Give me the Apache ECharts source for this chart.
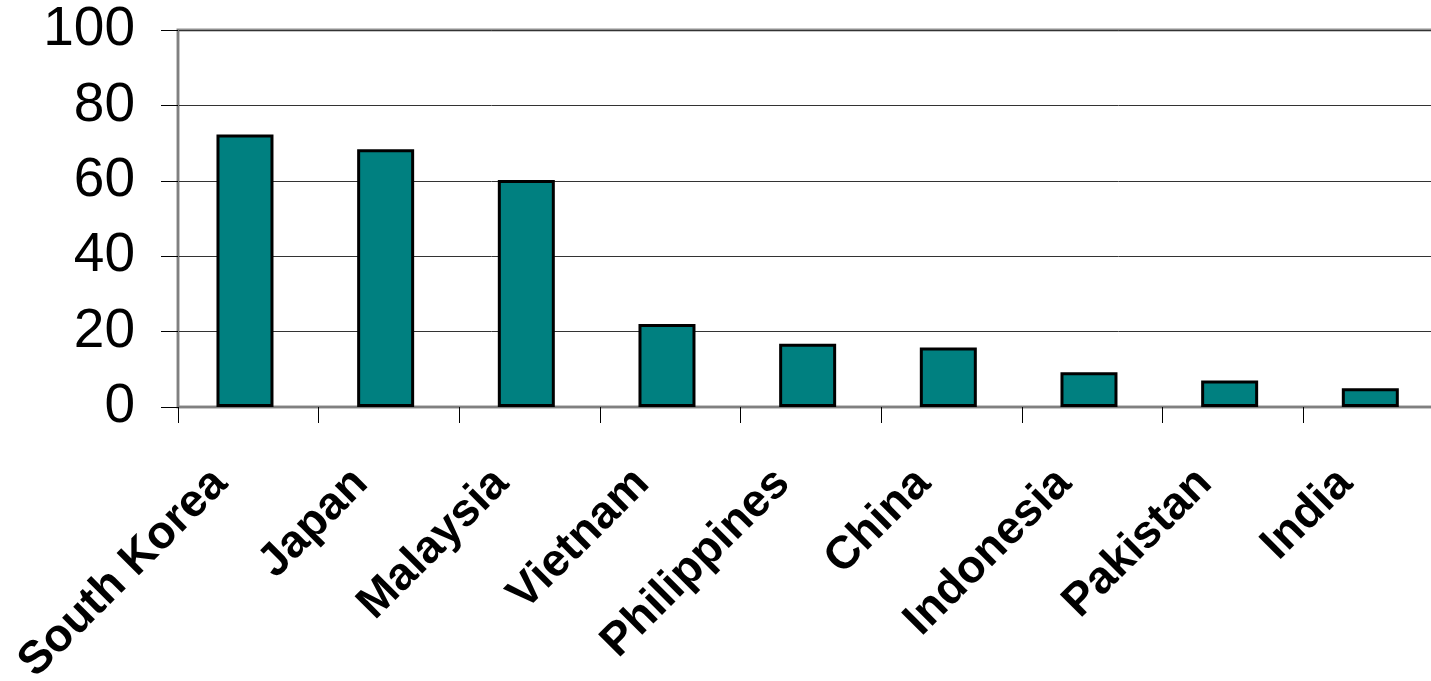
<!DOCTYPE html>
<html>
<head>
<meta charset="utf-8">
<style>
  html, body { margin: 0; padding: 0; background: #fff; }
  #chart { width: 1431px; height: 681px; }
</style>
<script src="https://cdn.jsdelivr.net/npm/echarts@6/dist/echarts.min.js"></script>
</head>
<body>
<div id="chart"></div>
<script>
const categories = ['South Korea', 'Japan', 'Malaysia', 'Vietnam', 'Philippines', 'China', 'Indonesia', 'Pakistan', 'India'];
const values = [72.3, 68.4, 60.2, 22.0, 16.8, 15.8, 9.2, 7.0, 5.0];
const yMin = 0;
const yMax = 100;
const yInterval = 20;

const chart = echarts.init(document.getElementById('chart'), null, { renderer: 'canvas' });
chart.setOption({
  animation: false,
  backgroundColor: '#ffffff',
  grid: {
    left: 178, right: -13, top: 30, bottom: 274,
    containLabel: false,
    outerBoundsMode: 'none',
    show: true, borderColor: '#909090', borderWidth: 3, backgroundColor: 'transparent'
  },
  xAxis: {
    type: 'category',
    data: categories,
    boundaryGap: true,
    axisLine: { show: true, lineStyle: { color: '#808080', width: 2 } },
    axisTick: { show: true, length: 16, lineStyle: { color: '#000', width: 1 } },
    axisLabel: {
      interval: 0,
      rotate: 45,
      margin: 41,
      padding: [0, 40, 0, 0],
      color: '#000',
      fontFamily: 'Liberation Sans, Arial, sans-serif',
      fontWeight: 'bold',
      fontSize: 46
    },
    splitLine: { show: false }
  },
  yAxis: {
    type: 'value',
    min: yMin, max: yMax, interval: yInterval,
    axisLine: { show: true, lineStyle: { color: '#808080', width: 2 } },
    axisTick: { show: true, length: 17, lineStyle: { color: '#000', width: 1 } },
    axisLabel: {
      margin: 43,
      color: '#000',
      fontFamily: 'Liberation Sans, Arial, sans-serif',
      fontSize: 55
    },
    splitLine: { show: true, lineStyle: { color: '#333', width: 1 } }
  },
  series: [{
    type: 'bar',
    data: values,
    barWidth: 57,
    barGap: '10%',
    itemStyle: { color: '#008080', borderColor: '#000', borderWidth: 3 }
  }, {
    type: 'bar',
    data: values,
    barWidth: 0.3,
    silent: true,
    itemStyle: { color: 'rgba(0,0,0,0)', borderWidth: 0 }
  }]
});
</script>
</body>
</html>
